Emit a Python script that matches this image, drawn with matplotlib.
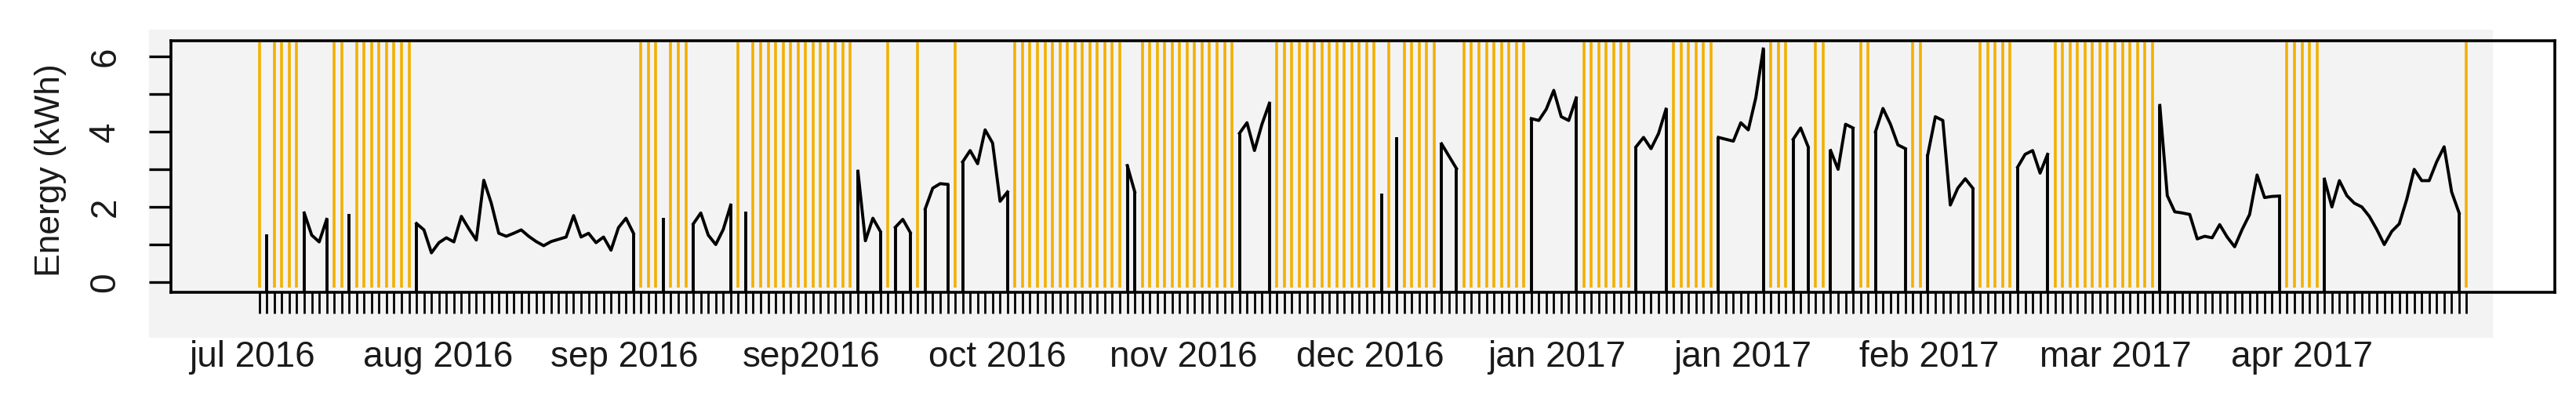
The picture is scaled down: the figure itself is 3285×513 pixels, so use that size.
import numpy as np
import matplotlib
matplotlib.use('Agg')
import matplotlib.pyplot as plt
import matplotlib.transforms as mtransforms
from matplotlib.patches import Rectangle

plt.rcParams['font.family'] = ['Liberation Sans', 'DejaVu Sans']

nan = np.nan

# daily energy (kWh), one value per tick on the x axis; nan = no reading that day
energy_kwh = [
    nan, 1.28, nan, nan, nan, nan, 1.84, 1.25, 1.07, 1.67,          # 0-9
    nan, nan, 1.81, nan, nan, nan, nan, nan, nan, nan,              # 10-19
    nan, 1.56, 1.39, 0.78, 1.05, 1.18, 1.07, 1.75, 1.42, 1.12,      # 20-29
    2.71, 2.10, 1.30, 1.22, 1.30, 1.39, 1.22, 1.08, 0.97, 1.08,     # 30-39
    1.14, 1.20, 1.77, 1.20, 1.30, 1.05, 1.20, 0.85, 1.45, 1.70,     # 40-49
    1.30, nan, nan, nan, 1.70, nan, nan, nan, 1.55, 1.84,           # 50-59
    1.25, 1.00, 1.40, 2.05, nan, 1.88, nan, nan, nan, nan,          # 60-69
    nan, nan, nan, nan, nan, nan, nan, nan, nan, nan,               # 70-79
    2.95, 1.10, 1.70, 1.35, nan, 1.46, 1.67, 1.32, nan, 1.95,       # 80-89
    2.50, 2.62, 2.60, nan, 3.20, 3.50, 3.15, 4.05, 3.70, 2.15,      # 90-99
    2.40, nan, nan, nan, nan, nan, nan, nan, nan, nan,              # 100-109
    nan, nan, nan, nan, nan, nan, 3.10, 2.40, nan, nan,             # 110-119
    nan, nan, nan, nan, nan, nan, nan, nan, nan, nan,               # 120-129
    nan, 3.96, 4.24, 3.50, 4.20, 4.76, nan, nan, nan, nan,          # 130-139
    nan, nan, nan, nan, nan, nan, nan, nan, nan, nan,               # 140-149
    2.36, nan, 3.85, nan, nan, nan, nan, nan, 3.68, 3.35,           # 150-159
    3.02, nan, nan, nan, nan, nan, nan, nan, nan, nan,              # 160-169
    4.35, 4.30, 4.60, 5.10, 4.40, 4.30, 4.90, nan, nan, nan,        # 170-179
    nan, nan, nan, nan, 3.60, 3.85, 3.55, 3.95, 4.60, nan,          # 180-189
    nan, nan, nan, nan, nan, 3.85, 3.80, 3.75, 4.24, 4.05,          # 190-199
    4.90, 6.20, nan, nan, nan, 3.80, 4.10, 3.60, nan, nan,          # 200-209
    3.50, 3.00, 4.20, 4.10, nan, nan, 4.00, 4.62, 4.20, 3.65,       # 210-219
    3.55, nan, nan, 3.40, 4.40, 4.30, 2.05, 2.50, 2.75, 2.50,       # 220-229
    nan, nan, nan, nan, nan, 3.06, 3.40, 3.50, 2.90, 3.40,          # 230-239
    nan, nan, nan, nan, nan, nan, nan, nan, nan, nan,               # 240-249
    nan, nan, nan, nan, 4.70, 2.30, 1.87, 1.84, 1.80, 1.15,         # 250-259
    1.22, 1.18, 1.53, 1.20, 0.94, 1.40, 1.80, 2.85, 2.25, 2.28,     # 260-269
    2.29, nan, nan, nan, nan, nan, 2.74, 2.00, 2.70, 2.30,          # 270-279
    2.10, 2.00, 1.75, 1.40, 1.00, 1.35, 1.55, 2.20, 3.00, 2.70,     # 280-289
    2.70, 3.20, 3.60, 2.40, 1.84, nan,                              # 290-295
]

month_labels = ['jul 2016', 'aug 2016', 'sep 2016', 'sep2016', 'oct 2016', 'nov 2016',
                'dec 2016', 'jan 2017', 'jan 2017', 'feb 2017', 'mar 2017', 'apr 2017']

y_ticks = [0, 2, 4, 6]

y = np.array(energy_kwh, dtype=float)
days = np.arange(len(y))
missing = np.isnan(y)
n = len(y)

fig = plt.figure(figsize=(32.85, 5.13), dpi=100)
# light grey panel behind the plot (like the original device background)
fig.patches.append(Rectangle((0.0578, 0.1618), 0.9096, 0.7641, transform=fig.transFigure,
                             color='#f3f3f3', zorder=-5))

ax = fig.add_axes([0.0664, 0.2729, 0.9254, 0.6257])
ax.set_facecolor('none')
ymin, ymax = -0.27, 6.42
ax.set_xlim(-0.04 * (n - 1), (n - 1) * 1.04)
ax.set_ylim(ymin, ymax)

# orange markers on days without data
ax.vlines(days[missing], -0.15, 6.38, color='#f2b000', lw=2.6, zorder=2)

# black series, dropping to the floor at the edges of every stretch of data
valid = ~missing
prev_ok = np.r_[False, valid[:-1]]
next_ok = np.r_[valid[1:], False]
edges = valid & (~prev_ok | ~next_ok)
ax.plot(days, y, color='black', lw=2.8, zorder=3)
ax.vlines(days[edges], ymin, y[edges], color='black', lw=2.8, zorder=3)

for s in ax.spines.values():
    s.set_linewidth(2.6)

ax.set_xticks(days)
ax.tick_params(axis='x', length=19.5, width=2.0, labelbottom=False)
ax.set_yticks(y_ticks)
ax.set_yticks([1, 3, 5], minor=True)
ax.tick_params(axis='y', which='both', length=20.5, width=2.4, labelsize=33, pad=24,
               labelcolor='#1a1a1a')
for lab in ax.get_yticklabels():
    lab.set_rotation(90)
    lab.set_va('center')

fig.text(0.0195, 0.576, 'Energy (kWh)', rotation=90, ha='center', va='center',
         fontsize=32, color='#1a1a1a')

trans = mtransforms.blended_transform_factory(ax.transData, fig.transFigure)
label_pos = np.linspace(-1, 273, len(month_labels))
for xp, lab in zip(label_pos, month_labels):
    ax.text(xp, 0.0877, lab, transform=trans, ha='center', va='baseline',
            fontsize=33, color='#1a1a1a', clip_on=False)

fig.savefig('out.png', dpi=100)
plt.close(fig)
